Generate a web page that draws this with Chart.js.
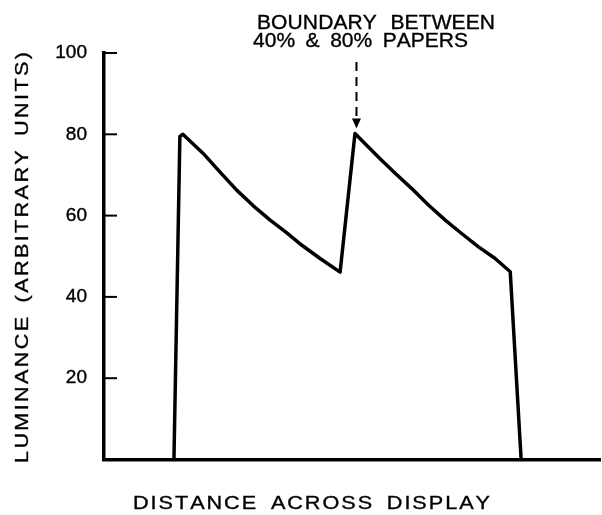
<!DOCTYPE html>
<html>
<head>
<meta charset="utf-8">
<title>Luminance across display</title>
<script src="https://cdn.jsdelivr.net/npm/chart.js@4.4.1/dist/chart.umd.min.js"></script>
<style>
    html, body { margin: 0; padding: 0; background: #fff; }
    #wrap { width: 602px; height: 515px; position: relative; }
</style>
</head>
<body>
<div id="wrap"><canvas id="luminanceChart"></canvas></div>
<script>
// Data (x in arbitrary distance units 0-100)
const distance = [14.1, 15.3, 15.9, 20.0, 23.4, 26.8, 30.1, 33.5, 36.8, 39.9, 43.5, 47.6,
                  50.6, 55.3, 58.7, 62.0, 65.4, 68.8, 72.1, 75.5, 78.8, 81.9, 84.1];
const luminance = [0, 79.5, 80.0, 75.3, 70.7, 66.2, 62.4, 58.9, 55.8, 52.7, 49.5, 46.1,
                   80.2, 74.4, 70.4, 66.7, 62.6, 58.9, 55.6, 52.3, 49.5, 46.2, 0];
const yTicks = [20, 40, 60, 80, 100];
const xTitle = 'DISTANCE ACROSS DISPLAY';
const yTitle = 'LUMINANCE (ARBITRARY UNITS)';
const noteLines = ['BOUNDARY BETWEEN', '40% & 80% PAPERS'];
const boundaryIndex = 12; // second peak, where the arrow points

const FONT = '"Liberation Sans", Arial, sans-serif';

// draws text letter by letter, a bit stretched, so it fills the given width
// spaces get `spaceMul` times their normal width
function drawSpaced(ctx, text, x, y, width, stretch, spaceMul) {
    const chars = text.split('');
    const widths = chars.map(c => ctx.measureText(c).width * stretch * (c === ' ' ? spaceMul : 1));
    const natural = widths.reduce((a, b) => a + b, 0);
    const gap = chars.length > 1 ? (width - natural) / (chars.length - 1) : 0;
    let cx = x;
    chars.forEach((c, i) => {
        ctx.save();
        ctx.translate(cx, y);
        ctx.scale(stretch, 1);
        ctx.fillText(c, 0, 0);
        ctx.strokeText(c, 0, 0);
        ctx.restore();
        cx += widths[i] + gap;
    });
}

const decorations = {
    id: 'decorations',
    afterDraw(chart) {
        const ctx = chart.ctx;
        const area = chart.chartArea;
        const yScale = chart.scales.y;
        const xScale = chart.scales.x;

        ctx.save();
        ctx.strokeStyle = '#000';
        ctx.fillStyle = '#000';

        // tick marks pointing into the plot
        ctx.lineWidth = 2;
        yTicks.forEach(v => {
            const py = yScale.getPixelForValue(v);
            ctx.beginPath();
            ctx.moveTo(area.left, py);
            ctx.lineTo(area.left + 13, py);
            ctx.stroke();
        });

        // axis titles
        ctx.textAlign = 'left';
        ctx.textBaseline = 'alphabetic';
        ctx.lineWidth = 0.35;
        ctx.font = '19px ' + FONT;
        drawSpaced(ctx, xTitle, 133, 508.5, 357, 1.14, 1.8);

        ctx.save();
        ctx.translate(27.5, 463);
        ctx.rotate(-Math.PI / 2);
        drawSpaced(ctx, yTitle, 0, 0, 411, 1.14, 1.6);
        ctx.restore();

        // note and dashed arrow
        ctx.font = '20px ' + FONT;
        drawSpaced(ctx, noteLines[0], 257, 28.5, 238, 1.05, 2.3);
        drawSpaced(ctx, noteLines[1], 253, 47, 215, 1.05, 1.8);

        const ax = xScale.getPixelForValue(distance[boundaryIndex]) + 1.5;
        const tip = yScale.getPixelForValue(luminance[boundaryIndex]) - 5;
        ctx.lineWidth = 2;
        ctx.setLineDash([9, 6]);
        ctx.beginPath();
        ctx.moveTo(ax, 62);
        ctx.lineTo(ax, tip - 8);
        ctx.stroke();
        ctx.setLineDash([]);
        ctx.beginPath();
        ctx.moveTo(ax - 4.5, tip - 10);
        ctx.lineTo(ax + 4.5, tip - 10);
        ctx.lineTo(ax, tip);
        ctx.closePath();
        ctx.fill();

        ctx.restore();
    }
};

function initChart() {
    const ctx = document.getElementById('luminanceChart').getContext('2d');

    new Chart(ctx, {
        type: 'line',
        data: {
            datasets: [{
                label: 'Luminance',
                data: distance.map((d, i) => ({ x: d, y: luminance[i] })),
                borderColor: '#000',
                borderWidth: 3.5,
                borderJoinStyle: 'round',
                borderCapStyle: 'round',
                pointRadius: 0,
                tension: 0,
                fill: false
            }]
        },
        options: {
            responsive: true,
            maintainAspectRatio: false,
            animation: false,
            layout: { padding: { top: 53, right: 2, left: 0, bottom: 0 } },
            plugins: {
                legend: { display: false },
                tooltip: { enabled: false }
            },
            scales: {
                x: {
                    type: 'linear',
                    min: 0,
                    max: 100,
                    grid: { display: false },
                    border: { display: true, color: '#000', width: 3.5 },
                    ticks: { display: false },
                    afterFit: scale => { scale.height = 55.5; }
                },
                y: {
                    min: 0,
                    max: 100,
                    grid: { display: false },
                    border: { display: true, color: '#000', width: 3.5 },
                    ticks: {
                        stepSize: 20,
                        color: '#000',
                        padding: 9,
                        textStrokeColor: '#000',
                        textStrokeWidth: 0.4,
                        font: { family: FONT, size: 19 },
                        callback: value => (yTicks.includes(value) ? value : '')
                    },
                    afterFit: scale => { scale.width = 104; }
                }
            }
        },
        plugins: [decorations]
    });
}

document.addEventListener('DOMContentLoaded', initChart);
</script>
</body>
</html>
